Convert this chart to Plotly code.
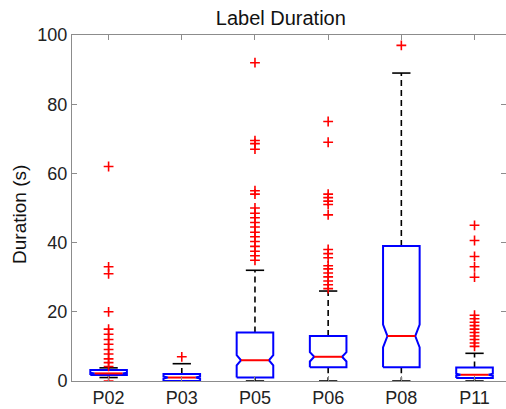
import plotly.graph_objects as go

# per-participant box statistics (seconds)
CATEGORIES = ["P02", "P03", "P05", "P06", "P08", "P11"]
Q1 = [1.7, 0.0, 1.0, 4.0, 4.0, 0.9]
MEDIAN = [2.2, 1.0, 6.0, 7.0, 13.0, 1.8]
Q3 = [3.2, 2.0, 14.0, 13.0, 39.0, 3.9]
NOTCH = [0.2, 0.3, 1.5, 1.35, 3.3, 0.3]
WHISKER_LO = [1.0, 0.0, 0.0, 0.0, 0.0, 0.0]
WHISKER_HI = [3.8, 5.0, 32.0, 26.0, 89.0, 8.0]
OUTLIERS = [
    [62, 33, 31, 20, 15, 13.5, 12, 10.6, 9.1, 7.8, 6.4, 5.3, 4.2, 0],
    [7],
    [92, 69.5, 68.6, 67, 55, 54, 50, 48.5, 47.2, 45.8, 44.5, 43, 41.7,
     40.3, 38.9, 37.5, 36.2, 34.9],
    [75, 69, 54, 53, 52, 51, 48, 38, 36.8, 35.6, 33.3, 32.4, 31.2, 30.1,
     28.9, 27.8, 26.7],
    [97],
    [45, 40.6, 36, 33, 30, 19, 18, 17, 16, 15, 14, 13, 12, 11, 10],
]

BOX_HALF = 0.25
NOTCH_HALF = 0.19
CAP_HALF = 0.125


def main():
    fig = go.Figure()

    box_x, box_y = [], []
    med_x, med_y = [], []
    wh_x, wh_y = [], []
    cap_x, cap_y = [], []
    out_x, out_y = [], []

    for i in range(len(CATEGORIES)):
        x = i + 1
        q1, md, q3, n = Q1[i], MEDIAN[i], Q3[i], NOTCH[i]
        box_x += [x - BOX_HALF, x - BOX_HALF, x - NOTCH_HALF, x - BOX_HALF,
                  x - BOX_HALF, x + BOX_HALF, x + BOX_HALF, x + NOTCH_HALF,
                  x + BOX_HALF, x + BOX_HALF, x - BOX_HALF, None]
        box_y += [q1, md - n, md, md + n, q3, q3, md + n, md, md - n, q1, q1, None]

        med_x += [x - NOTCH_HALF, x + NOTCH_HALF, None]
        med_y += [md, md, None]

        wh_x += [x, x, None, x, x, None]
        wh_y += [q3, WHISKER_HI[i], None, q1, WHISKER_LO[i], None]

        cap_x += [x - CAP_HALF, x + CAP_HALF, None, x - CAP_HALF, x + CAP_HALF, None]
        cap_y += [WHISKER_HI[i], WHISKER_HI[i], None, WHISKER_LO[i], WHISKER_LO[i], None]

        out_x += [x] * len(OUTLIERS[i])
        out_y += OUTLIERS[i]

    fig.add_trace(go.Scatter(x=wh_x, y=wh_y, mode="lines",
                             line=dict(color="black", width=1.6, dash="6px,4px")))
    fig.add_trace(go.Scatter(x=cap_x, y=cap_y, mode="lines",
                             line=dict(color="black", width=1.6)))
    fig.add_trace(go.Scatter(x=box_x, y=box_y, mode="lines",
                             line=dict(color="#0000ff", width=2)))
    fig.add_trace(go.Scatter(x=med_x, y=med_y, mode="lines",
                             line=dict(color="#ff0000", width=2)))
    fig.add_trace(go.Scatter(
        x=out_x, y=out_y, mode="markers",
        marker=dict(symbol="cross-thin", size=7, color="#ff0000",
                    line=dict(color="#ff0000", width=1.6)),
    ))

    axis_col = "#8c8c8c"
    font = "Liberation Sans, Arial, Helvetica, sans-serif"

    fig.update_layout(
        width=506,
        height=409,
        margin=dict(l=72, r=0, t=35, b=28),
        plot_bgcolor="white",
        paper_bgcolor="white",
        showlegend=False,
        font=dict(family=font, size=18, color="#222222"),
        title=dict(text="Label Duration", x=0.555, xref="container",
                   y=1 - 18 / 409, yref="container", yanchor="middle",
                   xanchor="center", font=dict(size=20, color="#111111")),
        xaxis=dict(
            range=[0.5, 6.43],
            tickvals=list(range(1, len(CATEGORIES) + 1)),
            ticktext=CATEGORIES,
            ticks="inside", ticklen=5, tickcolor=axis_col, tickwidth=1,
            showline=True, linecolor=axis_col, linewidth=1, mirror="ticks",
            showgrid=False, zeroline=False, automargin=False,
        ),
        yaxis=dict(
            range=[0, 100],
            tickvals=[0, 20, 40, 60, 80, 100],
            ticks="inside", ticklen=5, tickcolor=axis_col, tickwidth=1,
            showline=True, linecolor=axis_col, linewidth=1, mirror="ticks",
            showgrid=False, zeroline=False, automargin=False,
        ),
        annotations=[dict(
            text="Duration (s)", textangle=-90, showarrow=False,
            xref="paper", yref="paper", x=(20 - 72) / 434, y=0.48,
            xanchor="center", yanchor="middle",
            font=dict(size=19, color="#111111"),
        )],
    )

    # the page body has a default 8px margin; drop it so the figure fills the window
    fig.write_html(
        "out.html",
        config={"displayModeBar": False},
        post_script="document.body.style.margin='0';document.body.style.overflow='hidden';",
    )


if __name__ == "__main__":
    main()
